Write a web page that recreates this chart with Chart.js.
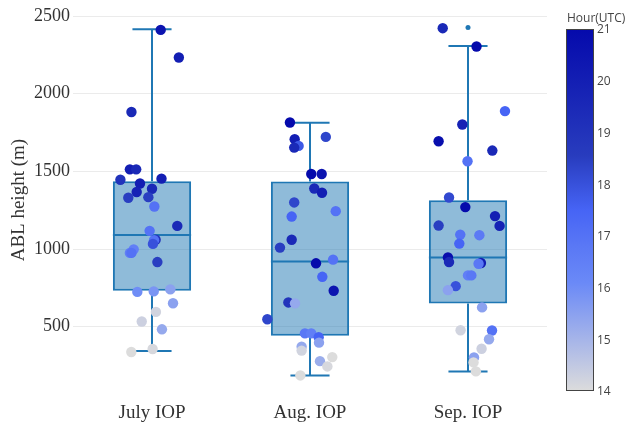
<!DOCTYPE html>
<html>
<head>
<meta charset="utf-8">
<script src="https://cdn.jsdelivr.net/npm/chart.js@4.4.1/dist/chart.umd.min.js"></script>
<style>
  html, body { margin: 0; padding: 0; background: #fff; }
  #wrap { width: 626px; height: 428px; position: relative; }
</style>
</head>
<body>
<div id="wrap"><canvas id="chart"></canvas></div>
<script>
// categories and box statistics (ABL height, m)
const categories = ['July IOP', 'Aug. IOP', 'Sep. IOP'];
const boxMin = [343, 185, 211];
const boxQ1 = [732, 442, 649];
const boxMedian = [1090, 920, 946];
const boxQ3 = [1436, 1435, 1314];
const boxMax = [2415, 1813, 2307];
const outlierCat = [2];
const outlierVal = [2426];

// individual soundings: value, jitter offset, hour (UTC)
const julyValues = [2411, 2233, 1882, 1513, 1513, 1446, 1453, 1422, 1388, 1367, 1330, 1334, 1274, 1149, 1117, 1060, 1057, 1033, 998, 975, 975, 916, 724, 727, 740, 651, 595, 533, 483, 337, 356];
const julyJitter = [0.055, 0.17, -0.13, -0.14, -0.10, -0.20, 0.06, -0.076, 0.0, -0.097, -0.15, -0.023, 0.015, 0.16, -0.015, 0.023, 0.013, 0.006, -0.116, -0.14, -0.13, 0.034, -0.093, 0.011, 0.116, 0.133, 0.025, -0.065, 0.063, -0.131, 0.004];
const julyHours = [20.5, 20, 19.5, 20, 19.5, 19, 20, 20, 19.5, 19.8, 18.5, 18.5, 17, 19.5, 17, 19, 17, 18, 16.5, 16.5, 17, 18.5, 16, 15.8, 15.5, 15.5, 14.2, 14.3, 15.3, 14, 14.1];

const augValues = [1815, 1722, 1707, 1664, 1653, 1483, 1483, 1390, 1362, 1300, 1244, 1209, 1060, 1009, 908, 932, 821, 731, 656, 650, 548, 457, 457, 432, 397, 371, 346, 278, 304, 244, 186];
const augJitter = [-0.127, 0.10, -0.097, -0.072, -0.10, 0.008, 0.074, 0.027, 0.076, -0.10, 0.163, -0.116, -0.116, -0.19, 0.038, 0.146, 0.078, 0.15, -0.137, -0.095, -0.27, -0.032, 0.008, 0.055, 0.057, -0.053, -0.053, 0.063, 0.141, 0.11, -0.061];
const augHours = [21, 18.3, 20, 17.8, 19.5, 21, 20.5, 19.5, 20, 18.3, 17, 17.5, 19.5, 18.5, 21, 17, 17.5, 20.5, 19, 15.3, 18.3, 16.8, 16.5, 17.5, 15.5, 15.3, 14.2, 15.2, 14, 14.1, 14];

const sepValues = [2422, 2304, 1888, 1802, 1694, 1634, 1565, 1332, 1270, 1212, 1151, 1149, 1093, 1089, 1035, 946, 916, 910, 905, 830, 830, 761, 735, 624, 477, 475, 419, 358, 302, 270, 212];
const sepJitter = [-0.16, 0.054, 0.234, -0.036, -0.186, 0.154, -0.003, -0.12, -0.017, 0.171, -0.186, 0.20, -0.049, 0.072, -0.055, -0.127, -0.12, 0.082, 0.067, 0, 0.021, -0.078, -0.127, 0.089, -0.047, 0.152, 0.133, 0.086, 0.038, 0.035, 0.05];
const sepHours = [19.5, 21, 17.5, 19.8, 20.8, 19.5, 17, 18.2, 21, 20, 18.5, 19.8, 17, 16.7, 17.5, 20.8, 19.5, 20, 16.8, 16.5, 16.8, 18, 15.5, 15.5, 14.2, 17, 15.3, 14.3, 15.5, 14, 14];

const yTicks = [500, 1000, 1500, 2000, 2500];
const hourTicks = [14, 15, 16, 17, 18, 19, 20, 21];
const hourMin = 14, hourMax = 21;

// plotly "Blues" scale, 0 = dark end
const scaleStops = [
    [0, [5, 10, 172]],
    [0.35, [40, 60, 190]],
    [0.5, [70, 100, 245]],
    [0.6, [90, 120, 245]],
    [0.7, [106, 137, 247]],
    [1, [220, 220, 220]]
];

const hourColor = (h) => {
    const t = Math.min(1, Math.max(0, (hourMax - h) / (hourMax - hourMin)));
    for (let i = 1; i < scaleStops.length; i++) {
        const [t1, c1] = scaleStops[i];
        const [t0, c0] = scaleStops[i - 1];
        if (t <= t1) {
            const f = (t - t0) / (t1 - t0);
            const c = c0.map((v, k) => Math.round(v + (c1[k] - v) * f));
            return `rgb(${c[0]},${c[1]},${c[2]})`;
        }
    }
    return 'rgb(220,220,220)';
};

const lineBlue = '#1f77b4';
const serif = "'Liberation Serif', 'DejaVu Serif', serif";

const pointSet = (idx, values, jitter, hours) => ({
    type: 'scatter',
    order: 0,
    data: values.map((v, k) => ({ x: idx + jitter[k], y: v })),
    pointRadius: 5.2,
    pointBorderWidth: 0,
    pointBackgroundColor: hours.map(hourColor)
});

// whiskers, caps and median drawn after the boxes
const whiskerPlugin = {
    id: 'whiskers',
    afterDatasetDraw(chart, args) {
        if (args.meta.type !== 'bar') return;
        const { ctx } = chart;
        const y = chart.scales.y;
        ctx.save();
        ctx.strokeStyle = lineBlue;
        ctx.lineWidth = 2;
        args.meta.data.forEach((bar, i) => {
            const cx = bar.x;
            const hw = bar.width / 2;
            const seg = (x1, y1, x2, y2) => {
                ctx.beginPath();
                ctx.moveTo(x1, y1);
                ctx.lineTo(x2, y2);
                ctx.stroke();
            };
            seg(cx - hw, y.getPixelForValue(boxMedian[i]), cx + hw, y.getPixelForValue(boxMedian[i]));
            seg(cx, y.getPixelForValue(boxQ3[i]), cx, y.getPixelForValue(boxMax[i]));
            seg(cx, y.getPixelForValue(boxQ1[i]), cx, y.getPixelForValue(boxMin[i]));
            seg(cx - hw / 2, y.getPixelForValue(boxMax[i]), cx + hw / 2, y.getPixelForValue(boxMax[i]));
            seg(cx - hw / 2, y.getPixelForValue(boxMin[i]), cx + hw / 2, y.getPixelForValue(boxMin[i]));
        });
        ctx.restore();
    }
};

// hour colour bar on the right
const colorbarPlugin = {
    id: 'colorbar',
    afterDraw(chart) {
        const { ctx } = chart;
        const left = 566, width = 28, top = 29, bottom = 391;
        const grad = ctx.createLinearGradient(0, top, 0, bottom);
        scaleStops.forEach(([t, c]) => grad.addColorStop(t, `rgb(${c[0]},${c[1]},${c[2]})`));
        ctx.save();
        ctx.fillStyle = grad;
        ctx.fillRect(left, top, width, bottom - top);
        ctx.strokeStyle = '#444';
        ctx.lineWidth = 1;
        ctx.strokeRect(left + 0.5, top + 0.5, width - 1, bottom - top - 1);
        ctx.fillStyle = '#444';
        ctx.font = "12px 'Open Sans', sans-serif";
        ctx.textBaseline = 'middle';
        ctx.textAlign = 'left';
        hourTicks.forEach(h => {
            const py = bottom - (h - hourMin) / (hourMax - hourMin) * (bottom - top);
            ctx.fillText(String(h), left + width + 3, py + 1);
        });
        ctx.fillText('Hour(UTC)', 567, 19);
        ctx.restore();
    }
};

new Chart(document.getElementById('chart'), {
    data: {
        datasets: [
            {
                type: 'bar',
                order: 2,
                data: categories.map((c, i) => ({ x: i, y: [boxQ1[i], boxQ3[i]] })),
                backgroundColor: 'rgba(31,119,180,0.5)',
                borderColor: lineBlue,
                borderWidth: 2,
                borderSkipped: false,
                categoryPercentage: 1,
                barPercentage: 0.495
            },
            pointSet(0, julyValues, julyJitter, julyHours),
            pointSet(1, augValues, augJitter, augHours),
            pointSet(2, sepValues, sepJitter, sepHours),
            {
                type: 'scatter',
                order: 0,
                data: outlierCat.map((c, i) => ({ x: c, y: outlierVal[i] })),
                pointRadius: 2.5,
                pointBorderWidth: 0,
                pointBackgroundColor: lineBlue
            }
        ]
    },
    options: {
        responsive: true,
        maintainAspectRatio: false,
        animation: false,
        layout: { padding: { left: 0, right: 79, top: 5, bottom: 0 } },
        plugins: { legend: { display: false }, tooltip: { enabled: false } },
        scales: {
            x: {
                type: 'linear',
                min: -0.5,
                max: 2.5,
                offset: false,
                afterBuildTicks: (scale) => { scale.ticks = categories.map((c, i) => ({ value: i })); },
                afterFit: (scale) => {
                    scale.height = 33;
                    scale.paddingLeft = 0;
                    scale.paddingRight = 0;
                },
                grid: { display: false, drawTicks: false },
                border: { display: false },
                ticks: {
                    padding: 7,
                    color: '#333',
                    font: { family: serif, size: 19 },
                    callback: (v) => categories[v]
                }
            },
            y: {
                min: 60,
                max: 2570,
                afterBuildTicks: (scale) => { scale.ticks = yTicks.map(v => ({ value: v })); },
                afterFit: (scale) => {
                    scale.width = 73;
                    scale.paddingTop = 0;
                    scale.paddingBottom = 0;
                },
                grid: { color: '#ebebeb', lineWidth: 1, drawTicks: false },
                border: { display: false },
                ticks: {
                    padding: 3,
                    color: '#333',
                    font: { family: serif, size: 18 },
                    callback: (v) => String(v)
                },
                title: {
                    display: true,
                    text: 'ABL height (m)',
                    color: '#333',
                    font: { family: serif, size: 19 },
                    padding: { top: 8, bottom: 0 }
                }
            }
        }
    },
    plugins: [whiskerPlugin, colorbarPlugin]
});
</script>
</body>
</html>
